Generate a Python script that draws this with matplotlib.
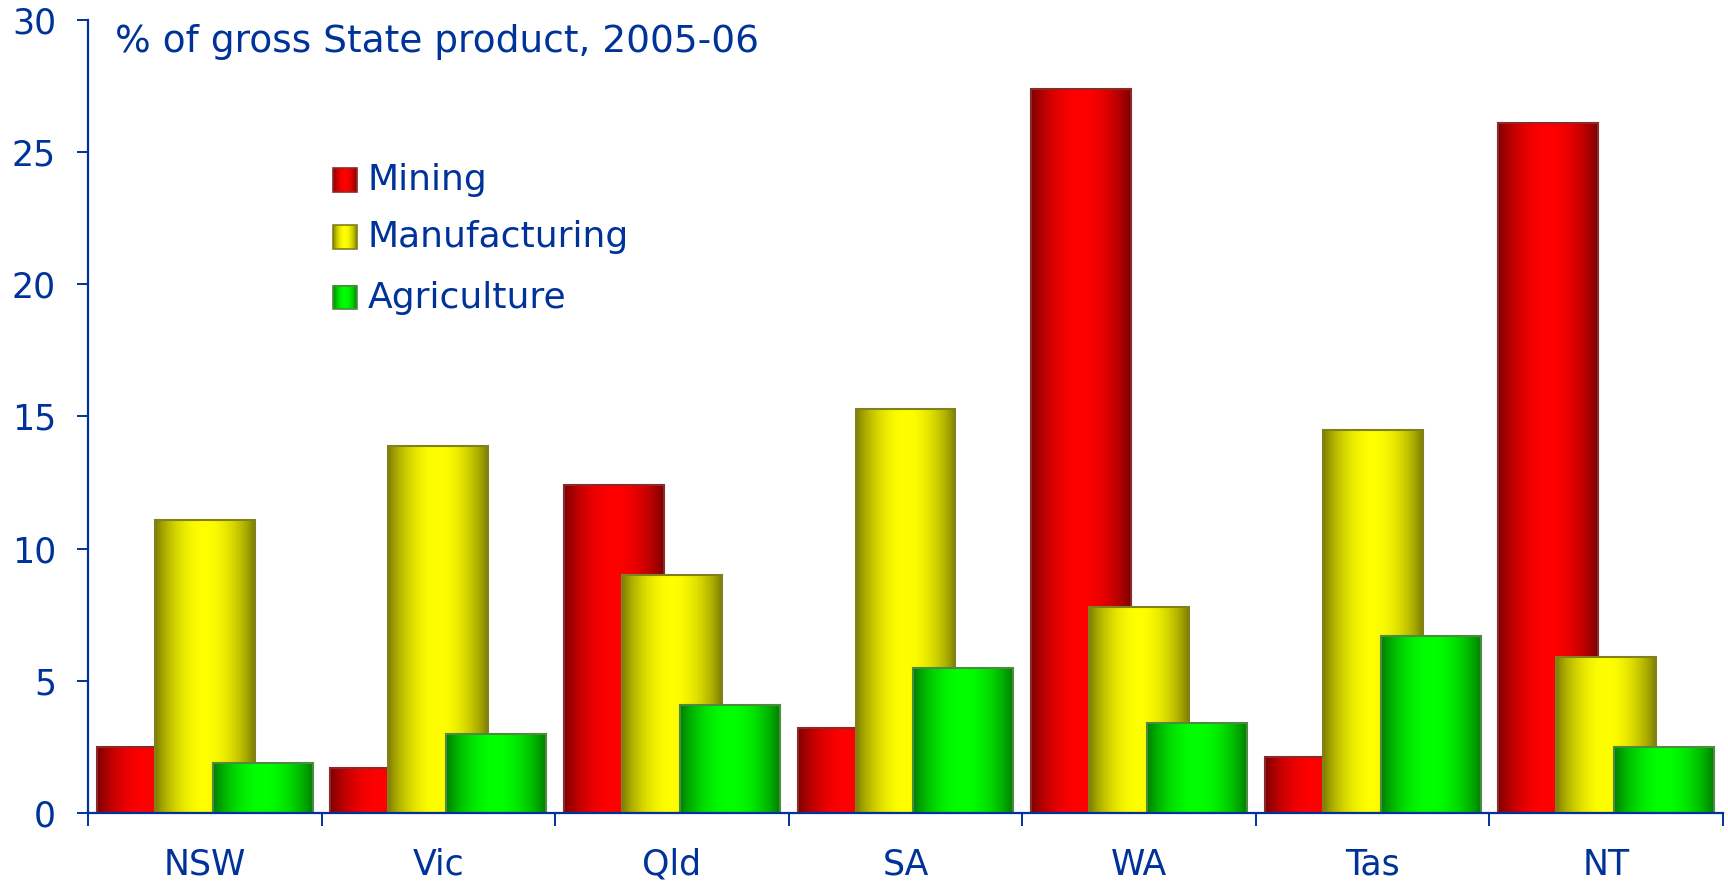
import numpy as np
import matplotlib
matplotlib.use("Agg")
import matplotlib.pyplot as plt
from matplotlib.colors import to_rgb

states = ["NSW", "Vic", "Qld", "SA", "WA", "Tas", "NT"]
mining = [2.5, 1.7, 12.4, 3.2, 27.4, 2.1, 26.1]
manufacturing = [11.1, 13.9, 9.0, 15.3, 7.8, 14.5, 5.9]
agriculture = [1.9, 3.0, 4.1, 5.5, 3.4, 6.7, 2.5]

series = [
    ("Mining", mining, "#7a0000", "#ff0000", "#8a2a2a"),
    ("Manufacturing", manufacturing, "#7a7a00", "#ffff00", "#80801e"),
    ("Agriculture", agriculture, "#007a00", "#00ff00", "#4e8a42"),
]

BLUE = "#00339a"
plt.rcParams["font.family"] = ["DejaVu Sans"]


def gradient(dark, bright, n=256):
    t = np.linspace(0, 1, n)
    f = np.sin(np.pi * t) ** 0.8
    d = np.array(to_rgb(dark))
    b = np.array(to_rgb(bright))
    row = d[None, :] + (b - d)[None, :] * f[:, None]
    return row[None, :, :]


fig = plt.figure(figsize=(17.28, 8.84), dpi=100)
ax = fig.add_axes([88 / 1728, 71 / 884, 1635 / 1728, 793 / 884])

x = np.arange(len(states))
width = 0.428
step = 0.248

for k, (name, vals, dark, bright, edge) in enumerate(series):
    img = gradient(dark, bright)
    bars = ax.bar(x + (k - 1) * step, vals, width, color="none",
                  edgecolor=edge, linewidth=1.5, zorder=3 + k + 0.5)
    for r in bars:
        x0, w, h = r.get_x(), r.get_width(), r.get_height()
        ax.imshow(img, extent=[x0, x0 + w, 0, h], aspect="auto",
                  interpolation="bilinear", zorder=3 + k)

    # legend entry
    ly = [0.798, 0.726, 0.650][k]
    ax.imshow(img, extent=[0.150, 0.1645, ly - 0.015, ly + 0.015],
              transform=ax.transAxes, aspect="auto", interpolation="bilinear",
              zorder=10)
    ax.add_patch(plt.Rectangle((0.150, ly - 0.015), 0.0145, 0.030,
                               transform=ax.transAxes, fill=False,
                               edgecolor=edge, linewidth=1.2, zorder=11))
    ax.text(0.171, ly, name, transform=ax.transAxes, va="center",
            ha="left", fontsize=26, color=BLUE, zorder=11)

ax.set_xlim(-0.5, len(states) - 0.5)
ax.set_ylim(0, 30)

ax.text(0.0165, 0.96, "% of gross State product, 2005-06",
        transform=ax.transAxes, fontsize=27, color=BLUE, va="baseline")

for s in ["top", "right"]:
    ax.spines[s].set_visible(False)
for s in ["left", "bottom"]:
    ax.spines[s].set_color(BLUE)
    ax.spines[s].set_linewidth(1.6)
    ax.spines[s].set_zorder(20)

ax.set_yticks([0, 5, 10, 15, 20, 25, 30])
ax.tick_params(axis="y", direction="out", length=8, width=1.4, color=BLUE,
               labelcolor=BLUE, labelsize=25, pad=15)

ax.set_xticks(x)
ax.set_xticklabels(states)
ax.set_xticks(np.arange(-0.5, len(states)), minor=True)
ax.tick_params(axis="x", which="major", length=0, labelcolor=BLUE,
               labelsize=25, pad=25)
ax.tick_params(axis="x", which="minor", direction="out", length=9,
               width=1.4, color=BLUE)

fig.savefig("out.png", dpi=100)
